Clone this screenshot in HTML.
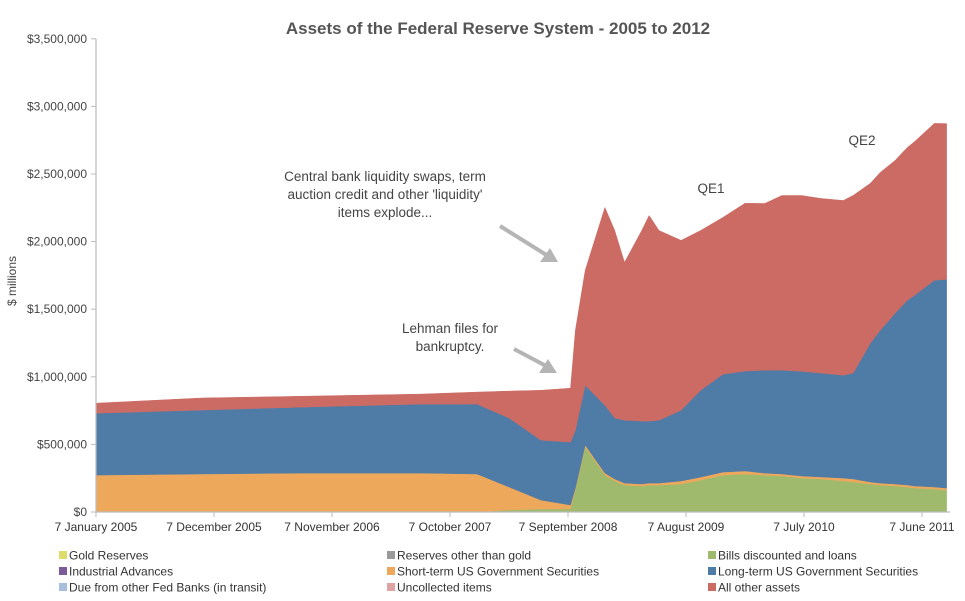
<!DOCTYPE html>
<html><head><meta charset="utf-8">
<style>
html,body{margin:0;padding:0;background:#fff;width:965px;height:601px;overflow:hidden}
svg{display:block;font-family:"Liberation Sans",sans-serif}
</style></head><body>
<svg id="chart" width="965" height="601" viewBox="0 0 965 601">
<text x="498" y="34" text-anchor="middle" font-size="17" font-weight="bold" fill="#555">Assets of the Federal Reserve System - 2005 to 2012</text>
<text transform="translate(16,281) rotate(-90)" text-anchor="middle" font-size="12" fill="#444">$ millions</text>
<g id="areas"></g>
<g id="yaxis"></g>
<g id="xaxis"></g>
<g>
<text x="385" y="181" text-anchor="middle" font-size="13.5" fill="#444">Central bank liquidity swaps, term</text>
<text x="385" y="199" text-anchor="middle" font-size="13.5" fill="#444">auction credit and other 'liquidity'</text>
<text x="385" y="217" text-anchor="middle" font-size="13.5" fill="#444">items explode...</text>
<line x1="500" y1="226" x2="548" y2="256" stroke="#b5b5b5" stroke-width="4"/>
<polygon points="558,262 540,262 550,248" fill="#b5b5b5"/>
</g>
<g>
<text x="450" y="333" text-anchor="middle" font-size="13.5" fill="#444">Lehman files for</text>
<text x="450" y="351" text-anchor="middle" font-size="13.5" fill="#444">bankruptcy.</text>
<line x1="514" y1="349" x2="548" y2="367" stroke="#b5b5b5" stroke-width="4"/>
<polygon points="557,373 539,373 548,359" fill="#b5b5b5"/>
</g>
<text x="711" y="193" text-anchor="middle" font-size="13.5" fill="#444">QE1</text>
<text x="862" y="145" text-anchor="middle" font-size="13.5" fill="#444">QE2</text>
<g id="legend"></g>
</svg>
<script>
// Data (values in $ billions), week index from 7 January 2005
const weeks = [0,43,83,132,155,168,181,193,195,199,207,211,215,222,225,229,238,246,255,264,272,279,287,295,304,308,315,319,325,330,333,341,346];
const bills = [0,0,0,0,0,15,22,22,162,480,273,229,199,192,199,199,207,236,273,281,273,266,251,244,229,222,207,199,192,185,177,170,162];
const shortTerm = [273,281,288,288,281,170,66,30,15,15,15,15,15,15,15,15,22,22,22,22,15,15,15,15,22,22,15,15,15,15,15,15,15];
const longTerm = [458,473,487,510,517,510,443,465,428,443,502,451,465,465,458,465,524,643,724,739,761,768,775,768,761,783,1027,1130,1263,1366,1411,1529,1544];
const otherAssets = [74,89,81,74,89,199,369,399,739,849,1462,1388,1167,1411,1521,1403,1256,1182,1160,1241,1233,1292,1300,1292,1292,1315,1182,1167,1130,1130,1137,1160,1152];
const yTicks = [0,500,1000,1500,2000,2500,3000,3500];
const yTickLabels = ["$0","$500,000","$1,000,000","$1,500,000","$2,000,000","$2,500,000","$3,000,000","$3,500,000"];
const xTickWeeks = [0,48,96,144,192,240,288,336];
const xTickLabels = ["7 January 2005","7 December 2005","7 November 2006","7 October 2007","7 September 2008","7 August 2009","7 July 2010","7 June 2011"];
const legendNames = ["Gold Reserves","Reserves other than gold","Bills discounted and loans","Industrial Advances","Short-term US Government Securities","Long-term US Government Securities","Due from other Fed Banks (in transit)","Uncollected items","All other assets"];
const legendColors = ["#dcdc6a","#9a9a9a","#9fba6c","#7a5a98","#eea85c","#4f7ca6","#a6bfdc","#e0a3a3","#cc6a64"];

const NS="http://www.w3.org/2000/svg";
const X0=96, PXW=118/48, Y0=512, PXV=67.6/500;
function xs(w){return X0+w*PXW;}
function ys(v){return Y0-v*PXV;}
function mk(tag,attrs,parent){const e=document.createElementNS(NS,tag);for(const k in attrs)e.setAttribute(k,attrs[k]);parent.appendChild(e);return e;}

const areas=document.getElementById('areas');
const layers=[[bills,"#9fba6c","area-bills"],[shortTerm,"#eea85c","area-short-term"],[longTerm,"#4f7ca6","area-long-term"],[otherAssets,"#cc6a64","area-other-assets"]];
let base=weeks.map(()=>0);
layers.forEach(([vals,col,name])=>{
  const top=base.map((b,i)=>b+vals[i]);
  let d="M"+weeks.map((w,i)=>xs(w).toFixed(1)+","+ys(top[i]).toFixed(1)).join("L");
  for(let i=weeks.length-1;i>=0;i--) d+="L"+xs(weeks[i]).toFixed(1)+","+ys(base[i]).toFixed(1);
  const p=mk('path',{d:d+"Z",fill:col,stroke:col,'stroke-width':0.5},areas);
  
  
  base=top;
});

const ya=document.getElementById('yaxis');
mk('line',{x1:X0,y1:ys(3500),x2:X0,y2:Y0,stroke:'#bbb','stroke-width':1.2},ya);
yTicks.forEach((v,i)=>{
  mk('line',{x1:X0-5,y1:ys(v),x2:X0,y2:ys(v),stroke:'#bbb'},ya);
  const t=mk('text',{x:X0-9,y:ys(v)+4,'text-anchor':'end','font-size':12,fill:'#444'},ya);
  t.textContent=yTickLabels[i];
  
  
});
const xa=document.getElementById('xaxis');
mk('line',{x1:X0,y1:Y0,x2:950,y2:Y0,stroke:'#bbb','stroke-width':1.2},xa);
xTickWeeks.forEach((w,i)=>{
  mk('line',{x1:xs(w),y1:Y0,x2:xs(w),y2:Y0+5,stroke:'#bbb'},xa);
  const t=mk('text',{x:xs(w),y:Y0+19,'text-anchor':'middle','font-size':12,fill:'#333'},xa);
  t.textContent=xTickLabels[i];
  
  
});
const lg=document.getElementById('legend');
const colX=[59,387,708];
legendNames.forEach((n,i)=>{
  const cx=colX[i%3], cy=559+Math.floor(i/3)*16;
  const g=mk('g',{},lg);
  
  
  mk('rect',{x:cx,y:cy-8,width:8,height:8,fill:legendColors[i]},g);
  const t=mk('text',{x:cx+10,y:cy+0.5,'font-size':12,fill:'#333'},g);
  t.textContent=n;
});
</script>
</body></html>
